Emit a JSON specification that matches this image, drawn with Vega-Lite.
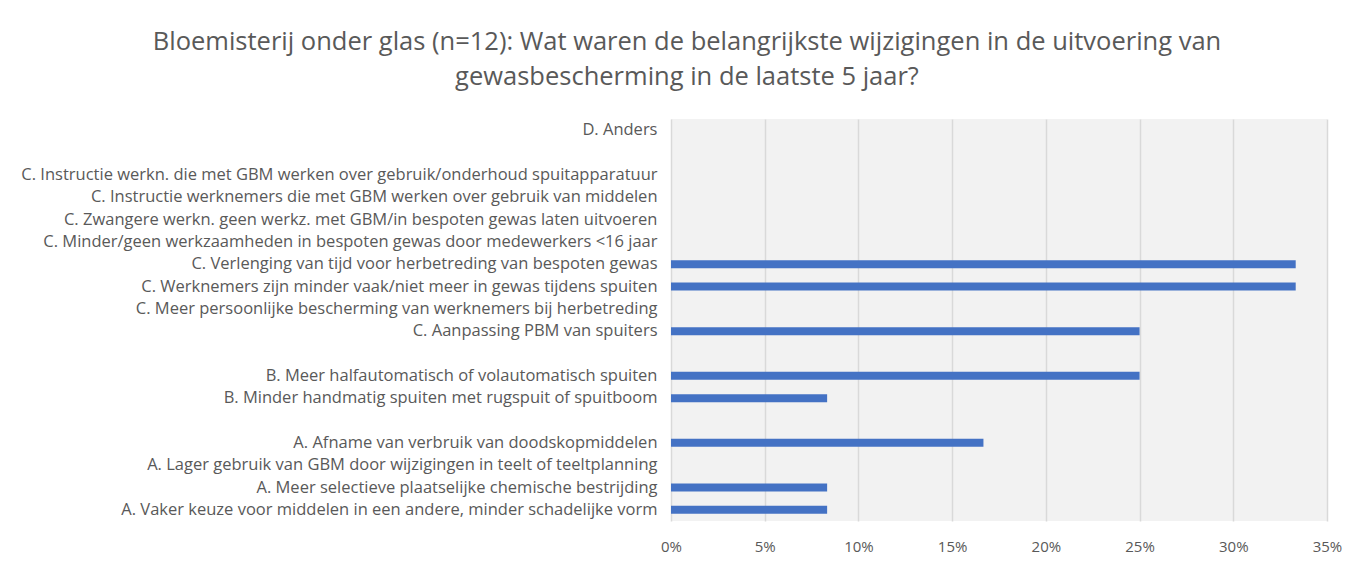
{
  "$schema": "https://vega.github.io/schema/vega-lite/v6.json",
  "width": 656,
  "height": 402,
  "autosize": "none",
  "padding": {"left": 671, "top": 119, "right": 43, "bottom": 42},
  "background": "white",
  "title": {
    "text": ["Bloemisterij onder glas (n=12): Wat waren de belangrijkste wijzigingen in de uitvoering van", "gewasbescherming  in de laatste 5 jaar?"],
    "anchor": "middle",
    "dx": -312,
    "offset": 29,
    "font": "Open Sans",
    "fontSize": 25.5,
    "fontWeight": "normal",
    "color": "#595959",
    "lineHeight": 35
  },
  "data": {
    "values": [
      {"label": "D. Anders", "value": 0},
      {"label": "gap1", "value": 0},
      {"label": "C. Instructie werkn. die met GBM werken over gebruik/onderhoud spuitapparatuur", "value": 0},
      {"label": "C. Instructie werknemers die met GBM werken over gebruik van middelen", "value": 0},
      {"label": "C. Zwangere werkn. geen werkz. met GBM/in bespoten gewas laten uitvoeren", "value": 0},
      {"label": "C. Minder/geen werkzaamheden in bespoten gewas door medewerkers <16 jaar", "value": 0},
      {"label": "C. Verlenging van tijd voor herbetreding van bespoten gewas", "value": 0.3333},
      {"label": "C. Werknemers zijn minder vaak/niet meer in gewas tijdens spuiten", "value": 0.3333},
      {"label": "C. Meer persoonlijke bescherming van werknemers bij herbetreding", "value": 0},
      {"label": "C. Aanpassing PBM van spuiters", "value": 0.25},
      {"label": "gap2", "value": 0},
      {"label": "B. Meer halfautomatisch of volautomatisch spuiten", "value": 0.25},
      {"label": "B. Minder handmatig spuiten met rugspuit of spuitboom", "value": 0.0833},
      {"label": "gap3", "value": 0},
      {"label": "A. Afname van verbruik van doodskopmiddelen", "value": 0.1667},
      {"label": "A. Lager gebruik van GBM door wijzigingen in teelt of teeltplanning", "value": 0},
      {"label": "A. Meer selectieve plaatselijke chemische bestrijding", "value": 0.0833},
      {"label": "A. Vaker keuze voor middelen in een andere, minder schadelijke vorm", "value": 0.0833}
    ]
  },
  "mark": {"type": "bar", "color": "#4472C4", "size": 8},
  "encoding": {
    "y": {
      "field": "label",
      "type": "nominal",
      "sort": null,
      "title": null,
      "axis": {
        "labelExpr": "indexof(datum.label, 'gap') == 0 ? '' : datum.label",
        "labelFont": "Open Sans",
        "labelFontSize": 16.5,
        "labelColor": "#595959",
        "labelPadding": 14,
        "labelLimit": 700,
        "ticks": false,
        "domain": false,
        "grid": false
      }
    },
    "x": {
      "field": "value",
      "type": "quantitative",
      "scale": {"domain": [0, 0.35], "nice": false},
      "title": null,
      "axis": {
        "values": [0, 0.05, 0.1, 0.15, 0.2, 0.25, 0.3, 0.35],
        "format": ".0%",
        "labelFont": "Open Sans",
        "labelFontSize": 15,
        "labelColor": "#595959",
        "labelPadding": 18,
        "labelFlush": false,
        "ticks": false,
        "domain": false,
        "grid": true,
        "gridColor": "#D9D9D9",
        "gridWidth": 1.5
      }
    }
  },
  "config": {
    "view": {"fill": "#F2F2F2", "stroke": null}
  }
}
